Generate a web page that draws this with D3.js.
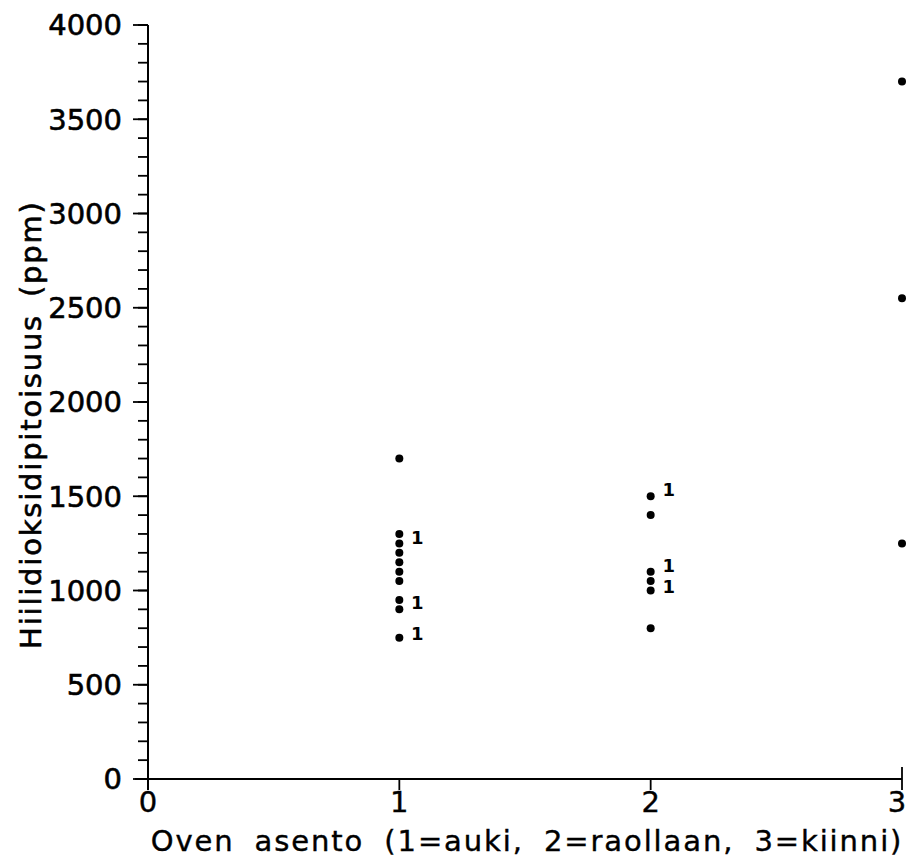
<!DOCTYPE html>
<html>
<head>
<meta charset="utf-8">
<script src="https://cdn.jsdelivr.net/npm/d3@7"></script>
<style>
  html, body { margin: 0; padding: 0; background: #fff; }
  svg { display: block; }
  text { font-family: "DejaVu Sans", sans-serif; fill: #000; }
</style>
</head>
<body>
<svg id="chart" width="908" height="862"></svg>
<script>
// Door position (1 = open, 2 = ajar, 3 = closed) vs. CO2 concentration (ppm)
const doorPosition = [1, 1, 1, 1, 1, 1, 1, 1, 1, 1,
                      2, 2, 2, 2, 2, 2,
                      3, 3, 3];
const co2ppm = [1700, 1300, 1250, 1200, 1150, 1100, 1050, 950, 900, 750,
                1500, 1400, 1100, 1050, 1000, 800,
                3700, 2550, 1250];

// Counts of coinciding extra observations, written beside the points
const countX = [1, 1, 1, 2, 2, 2];
const countY = [1280, 935, 770, 1535, 1135, 1020];
const countText = ["1", "1", "1", "1", "1", "1"];

const xTicks = [0, 1, 2, 3];
const yTicks = [0, 500, 1000, 1500, 2000, 2500, 3000, 3500, 4000];
const yMinorTicks = d3.range(0, 4001, 100);

const xTitle = "Oven asento (1=auki, 2=raollaan, 3=kiinni)";
const yTitle = "Hiilidioksidipitoisuus (ppm)";

const svg = d3.select("#chart");
const x = d3.scaleLinear().domain([0, 3]).range([148, 902]);
const y = d3.scaleLinear().domain([0, 4000]).range([779, 25]);

const g = svg.append("g");

// y axis: line, minor and major ticks pointing left
g.append("line")
  .attr("x1", x(0)).attr("x2", x(0))
  .attr("y1", y(4000)).attr("y2", y(0) + 11)
  .attr("stroke", "#000").attr("stroke-width", 2);
g.selectAll(".ymin").data(yMinorTicks).enter().append("line")
  .attr("x1", x(0) - 10).attr("x2", x(0))
  .attr("y1", d => y(d)).attr("y2", d => y(d))
  .attr("stroke", "#000").attr("stroke-width", 1.8);
g.selectAll(".ymaj").data(yTicks).enter().append("line")
  .attr("x1", x(0) - 15).attr("x2", x(0))
  .attr("y1", d => y(d)).attr("y2", d => y(d))
  .attr("stroke", "#000").attr("stroke-width", 1.8);
g.selectAll(".ylab").data(yTicks).enter().append("text")
  .attr("x", 122).attr("y", d => y(d))
  .attr("dy", "0.36em")
  .attr("text-anchor", "end")
  .style("font-size", "29px")
  .style("stroke", "#000").style("stroke-width", 0.6)
  .text(d => d);

// x axis: line and ticks pointing down
g.append("line")
  .attr("x1", x(0) - 13).attr("x2", x(3))
  .attr("y1", y(0)).attr("y2", y(0))
  .attr("stroke", "#000").attr("stroke-width", 2);
g.selectAll(".xmaj").data(xTicks).enter().append("line")
  .attr("x1", d => x(d)).attr("x2", d => x(d))
  .attr("y1", y(0)).attr("y2", y(0) + 11)
  .attr("stroke", "#000").attr("stroke-width", 1.8);
g.append("line")
  .attr("x1", x(3)).attr("x2", x(3))
  .attr("y1", y(0) - 12).attr("y2", y(0))
  .attr("stroke", "#000").attr("stroke-width", 1.8);
g.selectAll(".xlab").data(xTicks).enter().append("text")
  .attr("x", d => x(d)).attr("y", y(0) + 33)
  .attr("dx", d => d === 3 ? -5 : 0)
  .attr("text-anchor", "middle")
  .style("font-size", "29px")
  .style("stroke", "#000").style("stroke-width", 0.4)
  .text(d => d);

// axis titles
g.append("text")
  .attr("x", 527).attr("y", 851)
  .attr("text-anchor", "middle")
  .style("font-size", "29px")
  .style("letter-spacing", "1.9px")
  .style("word-spacing", "9px")
  .style("stroke", "#000").style("stroke-width", 0.4)
  .text(xTitle);
g.append("text")
  .attr("transform", `translate(41, ${y(1880)}) rotate(-90)`)
  .attr("text-anchor", "middle")
  .style("font-size", "29px")
  .style("letter-spacing", "1.8px")
  .style("word-spacing", "6px")
  .style("stroke", "#000").style("stroke-width", 0.6)
  .text(yTitle);

// observations
g.selectAll(".pt").data(co2ppm).enter().append("circle")
  .attr("cx", (d, i) => x(doorPosition[i]))
  .attr("cy", d => y(d))
  .attr("r", 4)
  .attr("fill", "#000");

// coincidence counts
g.selectAll(".cnt").data(countText).enter().append("text")
  .attr("x", (d, i) => x(countX[i]) + 18)
  .attr("y", (d, i) => y(countY[i]))
  .attr("dy", "0.36em")
  .attr("text-anchor", "middle")
  .style("font-size", "18px")
  .style("font-weight", "bold")
  .text(d => d);
</script>
</body>
</html>
